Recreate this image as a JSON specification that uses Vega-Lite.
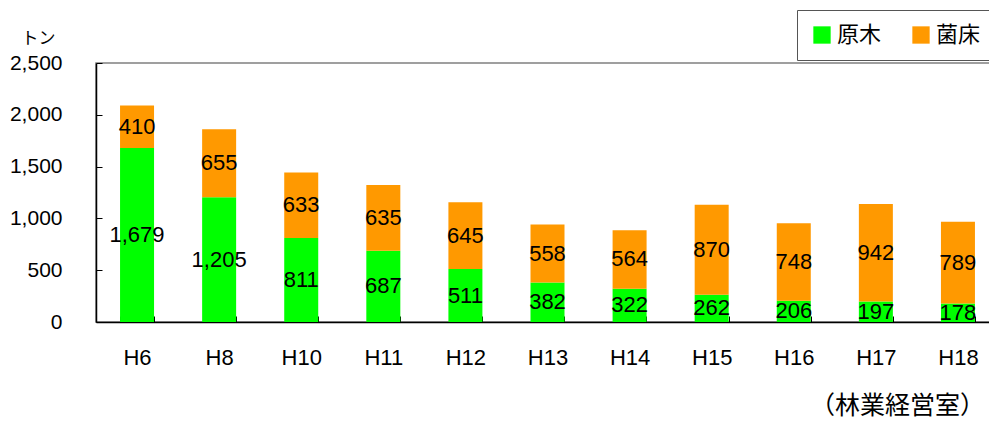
{
  "$schema": "https://vega.github.io/schema/vega-lite/v6.json",
  "width": 903,
  "height": 259,
  "autosize": {"type": "none"},
  "padding": {"left": 96, "top": 63, "right": 0, "bottom": 99},
  "background": "white",
  "config": {
    "font": "Liberation Sans",
    "view": {"stroke": "#808080", "strokeWidth": 1.5}
  },
  "title": {
    "text": "（林業経営室）",
    "orient": "bottom",
    "anchor": "end",
    "frame": "group",
    "font": "Noto Sans CJK JP",
    "fontSize": 25,
    "fontWeight": "normal",
    "color": "#000000",
    "offset": 26,
    "dx": -14
  },
  "data": {
    "values": [
      {"year": "H6", "type": "原木", "order": 1, "value": 1679},
      {"year": "H6", "type": "菌床", "order": 2, "value": 410},
      {"year": "H8", "type": "原木", "order": 1, "value": 1205},
      {"year": "H8", "type": "菌床", "order": 2, "value": 655},
      {"year": "H10", "type": "原木", "order": 1, "value": 811},
      {"year": "H10", "type": "菌床", "order": 2, "value": 633},
      {"year": "H11", "type": "原木", "order": 1, "value": 687},
      {"year": "H11", "type": "菌床", "order": 2, "value": 635},
      {"year": "H12", "type": "原木", "order": 1, "value": 511},
      {"year": "H12", "type": "菌床", "order": 2, "value": 645},
      {"year": "H13", "type": "原木", "order": 1, "value": 382},
      {"year": "H13", "type": "菌床", "order": 2, "value": 558},
      {"year": "H14", "type": "原木", "order": 1, "value": 322},
      {"year": "H14", "type": "菌床", "order": 2, "value": 564},
      {"year": "H15", "type": "原木", "order": 1, "value": 262},
      {"year": "H15", "type": "菌床", "order": 2, "value": 870},
      {"year": "H16", "type": "原木", "order": 1, "value": 206},
      {"year": "H16", "type": "菌床", "order": 2, "value": 748},
      {"year": "H17", "type": "原木", "order": 1, "value": 197},
      {"year": "H17", "type": "菌床", "order": 2, "value": 942},
      {"year": "H18", "type": "原木", "order": 1, "value": 178},
      {"year": "H18", "type": "菌床", "order": 2, "value": 789}
    ]
  },
  "encoding": {
    "x": {
      "field": "year",
      "type": "nominal",
      "sort": null,
      "scale": {"paddingInner": 0.59, "paddingOuter": 0.295},
      "axis": {
        "title": null,
        "labelAngle": 0,
        "labelFontSize": 22,
        "labelColor": "#000000",
        "labelPadding": 31,
        "domainColor": "#000000",
        "domainWidth": 1.5,
        "tickColor": "#000000",
        "tickBand": "extent",
        "tickSize": -6,
        "ticks": true
      }
    }
  },
  "layer": [
    {
      "mark": {"type": "bar", "size": 34},
      "encoding": {
        "y": {
          "field": "value",
          "type": "quantitative",
          "stack": "zero",
          "scale": {"domain": [0, 2500], "nice": false, "padding": 0},
          "axis": {
            "title": "トン",
            "titleAngle": 0,
            "titleX": -58,
            "titleY": -25,
            "titleAlign": "center",
            "titleBaseline": "middle",
            "titleFont": "Noto Sans CJK JP",
            "titleFontSize": 17,
            "titleFontWeight": "normal",
            "titleColor": "#000000",
            "values": [0, 500, 1000, 1500, 2000, 2500],
            "format": ",d",
            "labelFontSize": 21,
            "labelColor": "#000000",
            "labelPadding": 40,
            "labelFlush": false,
            "tickSize": -6,
            "tickColor": "#000000",
            "domainColor": "#000000",
            "domainWidth": 1.5,
            "grid": false
          }
        },
        "color": {
          "field": "type",
          "type": "nominal",
          "scale": {"domain": ["原木", "菌床"], "range": ["#00FF00", "#FF9900"]},
          "legend": {
            "title": null,
            "orient": "none",
            "legendX": 701,
            "legendY": -53,
            "direction": "horizontal",
            "symbolType": "square",
            "symbolSize": 300,
            "symbolStrokeWidth": 0,
            "labelFont": "Noto Sans CJK JP",
            "labelFontSize": 22,
            "labelColor": "#000000",
            "columnPadding": 28,
            "padding": 14,
            "strokeColor": "#555555",
            "fillColor": "white"
          }
        },
        "order": {"field": "order", "type": "quantitative"}
      }
    },
    {
      "mark": {"type": "text", "fontSize": 22, "color": "#000000", "baseline": "middle"},
      "encoding": {
        "y": {"field": "value", "type": "quantitative", "stack": "zero", "bandPosition": 0.5},
        "text": {"field": "value", "type": "quantitative", "format": ",d"},
        "order": {"field": "order", "type": "quantitative"},
        "detail": {"field": "type"}
      }
    }
  ]
}
